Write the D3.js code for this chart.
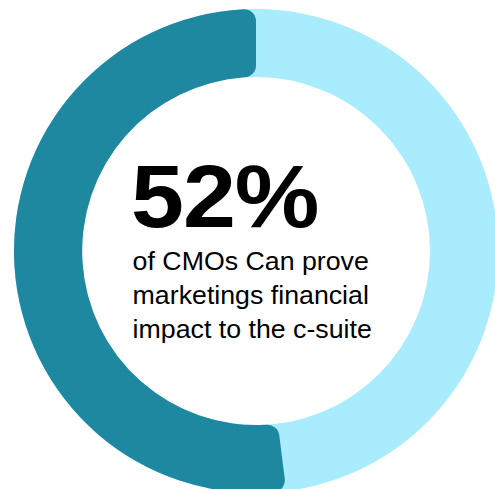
<!DOCTYPE html>
<html>
<head>
<meta charset="utf-8">
<script src="https://cdn.jsdelivr.net/npm/d3@7"></script>
<style>
  html, body { margin: 0; padding: 0; background: #fff; }
  svg { display: block; }
</style>
</head>
<body>
<svg id="chart" width="495" height="489"></svg>
<script>
// Share of CMOs who can prove marketing's financial impact
const shareValue = 52;          // percent
const headline = ["52%"];
const captionLines = ["of CMOs Can prove", "marketings financial", "impact to the c-suite"];

const colors = { share: "#1f88a1", rest: "#a9ecfd" };

const svg = d3.select("#chart");
const cx = 256, cy = 251;
const innerR = 174, outerR = 242;

const g = svg.append("g").attr("transform", `translate(${cx},${cy})`);

// full background ring
const ring = d3.arc().innerRadius(innerR).outerRadius(outerR);
g.append("path")
  .attr("d", ring({ startAngle: 0, endAngle: 2 * Math.PI }))
  .attr("fill", colors.rest);

// highlighted share, running counter-clockwise from 12 o'clock
const angle = d3.scaleLinear().domain([0, 100]).range([0, 2 * Math.PI]);
const shareArc = d3.arc().innerRadius(innerR).outerRadius(outerR).cornerRadius(12);
g.append("path")
  .attr("d", shareArc({ startAngle: -angle(shareValue), endAngle: 0 }))
  .attr("fill", colors.share);

// central text block, set in a slightly widened face
const textBlock = svg.append("g")
  .attr("transform", "translate(131,0) scale(1.07,1)");

textBlock.append("text")
  .attr("x", 0)
  .attr("y", 227)
  .attr("font-family", "'Liberation Sans', Arial, sans-serif")
  .attr("font-weight", "bold")
  .attr("font-size", 89)
  .attr("letter-spacing", -1)
  .attr("fill", "#000")
  .text(headline[0]);

textBlock.append("g").selectAll("text")
  .data(captionLines)
  .join("text")
  .attr("x", 1.5)
  .attr("y", (d, i) => 270 + i * 34)
  .attr("font-family", "'Liberation Sans', Arial, sans-serif")
  .attr("font-size", 25)
  .attr("fill", "#000")
  .text(d => d);
</script>
</body>
</html>
